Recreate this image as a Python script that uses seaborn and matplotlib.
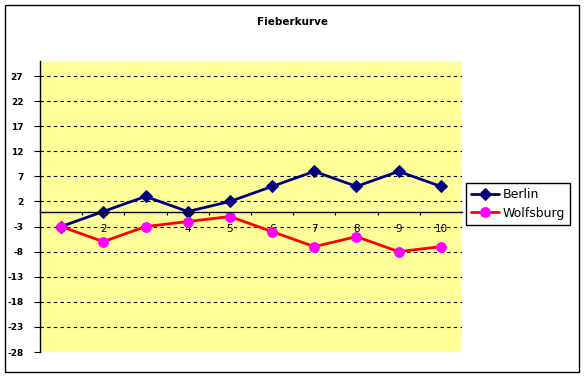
import matplotlib
matplotlib.use("Agg")
import matplotlib.pyplot as plt
from matplotlib.patches import Rectangle
import seaborn as sns
import numpy as np

days = [1, 2, 3, 4, 5, 6, 7, 8, 9, 10]
berlin = [-3, 0, 3, 0, 2, 5, 8, 5, 8, 5]
wolfsburg = [-3, -6, -3, -2, -1, -4, -7, -5, -8, -7]
y_ticks = [-28, -23, -18, -13, -8, -3, 2, 7, 12, 17, 22, 27]
title = "Fieberkurve"

sns.set_theme(style="white")
plt.rcParams['font.family'] = ['DejaVu Sans']
plt.rcParams['text.color'] = 'black'
plt.rcParams['xtick.color'] = 'black'
plt.rcParams['ytick.color'] = 'black'
plt.rcParams['axes.labelcolor'] = 'black'

W, H = 584, 377
fig = plt.figure(figsize=(W / 100, H / 100), dpi=100)
fig.patch.set_facecolor("white")

# outer border
fig.patches.append(Rectangle((5 / W, 5 / H), (579 - 5) / W, (372 - 5) / H,
                             transform=fig.transFigure, fill=False,
                             edgecolor="black", linewidth=1.0))

left, right, top, bottom = 40, 462, 61, 352
ax = fig.add_axes([left / W, 1 - bottom / H, (right - left) / W, (bottom - top) / H])
ax.set_facecolor("#FFFF99")

sns.lineplot(x=days, y=berlin, ax=ax, color="#000080", marker="D", markersize=6,
             markeredgecolor="#000080", markerfacecolor="#000080", linewidth=2,
             label="Berlin", legend=False)
sns.lineplot(x=days, y=wolfsburg, ax=ax, color="#FF0000", marker="o", markersize=7,
             markeredgecolor="#FF00FF", markerfacecolor="#FF00FF", linewidth=2,
             label="Wolfsburg", legend=False)

ax.set_xlim(0.5, 10.5)
ax.set_ylim(-28, 30)
ax.set_yticks(y_ticks)
ax.set_yticklabels([str(v) for v in y_ticks], fontsize=6.5, fontweight="bold", color="black")
ax.tick_params(axis="y", direction="out", length=4, width=0.8, pad=8, color="black", left=True)

# gridlines
for v in y_ticks[1:]:
    ax.axhline(v, color="black", linewidth=0.8, linestyle=(0, (3, 3)), zorder=1)

# x axis crossing at 0
for s in ["top", "right"]:
    ax.spines[s].set_visible(False)
ax.spines["left"].set_color("black")
ax.spines["left"].set_linewidth(1.0)
ax.spines["bottom"].set_position(("data", 0))
ax.spines["bottom"].set_color("black")
ax.spines["bottom"].set_linewidth(1.0)
ax.set_xticks(days)
ax.set_xticklabels([str(d) for d in days], fontsize=7.5, color="black")
ax.set_xticks(np.arange(1.5, 10.5, 1.0), minor=True)
ax.tick_params(axis="x", which="major", length=0, pad=9, bottom=True)
ax.tick_params(axis="x", which="minor", direction="out", length=2.5, width=0.8,
               color="black", bottom=True)
ax.set_xlabel("")
ax.set_ylabel("")

fig.text(292 / W, 1 - 22 / H, title, ha="center", va="center", fontsize=7.5,
         fontweight="bold", color="black")

handles = ax.get_lines()[:2]
leg = fig.legend(handles, ["Berlin", "Wolfsburg"], loc="upper left",
                 bbox_to_anchor=(466 / W, 1 - 183 / H), fontsize=9,
                 frameon=True, fancybox=False, edgecolor="black", framealpha=1,
                 handlelength=2.2, handletextpad=0.3, borderpad=0.4, labelspacing=0.45,
                 borderaxespad=0)
leg.get_frame().set_linewidth(1.0)
for t in leg.get_texts():
    t.set_color("black")

fig.savefig("out.png", dpi=100)
